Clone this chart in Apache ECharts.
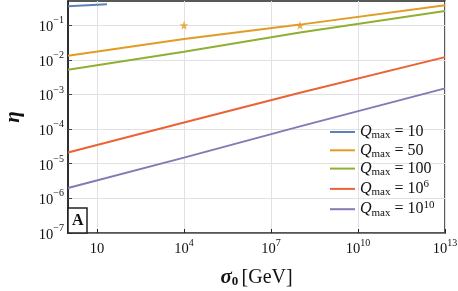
<!DOCTYPE html>
<html><head><meta charset="utf-8">
<script src="https://cdn.jsdelivr.net/npm/echarts@6/dist/echarts.min.js"></script>
<style>html,body{margin:0;padding:0;background:#fff}#c{width:458px;height:291px}</style>
</head><body><div id="c"></div>
<script>
// ---- data ----
const sigmaQ10 = [1, 22];
const etaQ10 = [0.353, 0.40];
const sigmaGrid = [1, 1e4, 1e8, 1e13];
const etaQ50 = [0.0132, 0.040, 0.104, 0.375];
const etaQ100 = [0.0052, 0.017, 0.062, 0.258];
const etaQ1e6 = [2.1e-5, 1.55e-4, 1.12e-3, 0.012];
const etaQ1e10 = [2.0e-6, 1.5e-5, 1.2e-4, 1.5e-3];
const starSigma = [1e4, 1e8];
const starEta = [0.1, 0.1];
const xTickValues = [10, 1e4, 1e7, 1e10, 1e13];
const yTickValues = [1e-7, 1e-6, 1e-5, 1e-4, 1e-3, 1e-2, 1e-1];
const seriesNames = ['Q10', 'Q50', 'Q100', 'Q1e6', 'Q1e10'];
const legendExp = { Q10: ['10', ''], Q50: ['50', ''], Q100: ['100', ''], Q1e6: ['10', '6'], Q1e10: ['10', '10'] };
const colors = ['#5E81B5', '#E19C24', '#8FB032', '#EB6235', '#8778B3'];

const SERIF = "'Liberation Serif','DejaVu Serif',serif";
const zip = (xs, ys) => xs.map((x, i) => [x, ys[i]]);
function powLabel(v) {
  const e = Math.round(Math.log10(v));
  if (Math.abs(Math.log10(v) - e) > 1e-6) return '';
  if (e === 1) return '{b|10}';
  return '{b|10}{p|' + String(e).replace('-', '\u2212') + '}';
}
const labelRich = {
  b: { fontFamily: SERIF, fontSize: 14.5, color: '#111', lineHeight: 19, verticalAlign: 'bottom' },
  p: { fontFamily: SERIF, fontSize: 10, color: '#111', lineHeight: 10, verticalAlign: 'top' }
};

const lineData = [zip(sigmaQ10, etaQ10), zip(sigmaGrid, etaQ50), zip(sigmaGrid, etaQ100), zip(sigmaGrid, etaQ1e6), zip(sigmaGrid, etaQ1e10)];
const series = lineData.map((d, i) => ({
  name: seriesNames[i], type: 'line', data: d, symbol: 'none', color: colors[i],
  lineStyle: { width: 2, color: colors[i] }, animation: false, z: 3
}));
series.push({
  name: 'stars', type: 'scatter', data: zip(starSigma, starEta), color: colors[1],
  symbol: 'path://M50,0 L61,35 L98,35 L68,57 L79,91 L50,70 L21,91 L32,57 L2,35 L39,35 Z',
  symbolSize: 9, itemStyle: { color: colors[1] }, animation: false, z: 4
});

const chart = echarts.init(document.getElementById('c'), null, { renderer: 'canvas' });
chart.setOption({
  animation: false,
  grid: { left: 68, right: 13, top: 1, bottom: 58, show: true, borderColor: '#222', borderWidth: 1.5, backgroundColor: 'transparent', outerBoundsMode: 'none', containLabel: false },
  title: {
    text: 'A', left: 68, top: 208, padding: [4, 4, 3, 4],
    borderColor: '#222', borderWidth: 1.5, backgroundColor: '#fff',
    textStyle: { fontFamily: SERIF, fontWeight: 'bold', fontSize: 16, color: '#111', lineHeight: 18 }
  },
  legend: {
    data: seriesNames, orient: 'vertical', left: 325, top: 119, itemWidth: 25, itemHeight: 12, itemGap: 0.3, itemTextGap: 3,
    icon: 'path://M0,0 L100,0 L100,8 L0,8 Z',
    formatter: n => {
      const [base, sup] = legendExp[n];
      return '{q|Q}{s|max}{t| = ' + base + '}' + (sup ? '{p|' + sup + '}' : '');
    },
    textStyle: {
      rich: {
        q: { fontFamily: SERIF, fontStyle: 'italic', fontSize: 16, color: '#111', lineHeight: 20, verticalAlign: 'middle' },
        s: { fontFamily: SERIF, fontSize: 11, color: '#111', lineHeight: 11, verticalAlign: 'bottom', padding: [0, 0, 1, 0] },
        t: { fontFamily: SERIF, fontSize: 16, color: '#111', lineHeight: 20, verticalAlign: 'middle' },
        p: { fontFamily: SERIF, fontSize: 11, color: '#111', lineHeight: 11, verticalAlign: 'top', padding: [0, 0, 0, 0] }
      }
    }
  },
  xAxis: {
    type: 'log', logBase: 10, min: 1, max: 1e13, splitNumber: 13,
    name: '{s|\u03C3}{z|0} {g|[GeV]}', nameLocation: 'middle', nameGap: 33,
    nameTextStyle: {
      rich: {
        s: { fontFamily: SERIF, fontStyle: 'italic', fontWeight: 'bold', fontSize: 21, color: '#111', lineHeight: 24, verticalAlign: 'middle' },
        z: { fontFamily: SERIF, fontWeight: 'bold', fontSize: 13, color: '#111', lineHeight: 13, verticalAlign: 'bottom', padding: [0, 0, 2, 0] },
        g: { fontFamily: SERIF, fontSize: 20, color: '#111', lineHeight: 24, verticalAlign: 'middle' }
      }
    },
    axisLine: { show: true, lineStyle: { color: '#555', width: 1.5 } },
    axisTick: { show: true, inside: true, length: 4, customValues: xTickValues, lineStyle: { color: '#222', width: 1 } },
    axisLabel: { customValues: xTickValues, margin: 5, formatter: powLabel, rich: labelRich },
    splitLine: { show: true, lineStyle: { color: '#e1e1e1', width: 1 } }
  },
  yAxis: {
    type: 'log', logBase: 10, min: 1e-7, max: 0.5, splitNumber: 7,
    name: '\u03B7', nameLocation: 'middle', nameGap: 44, nameRotate: 90,
    nameTextStyle: { fontFamily: SERIF, fontStyle: 'italic', fontWeight: 'bold', fontSize: 21, color: '#111' },
    axisLine: { show: true, lineStyle: { color: '#222', width: 1.5 } },
    axisTick: { show: true, inside: true, length: 4, customValues: yTickValues, lineStyle: { color: '#444', width: 1 } },
    axisLabel: { customValues: yTickValues, margin: 4, formatter: powLabel, rich: labelRich },
    splitLine: { show: true, lineStyle: { color: '#e1e1e1', width: 1 } }
  },
  series: series
});
</script></body></html>
